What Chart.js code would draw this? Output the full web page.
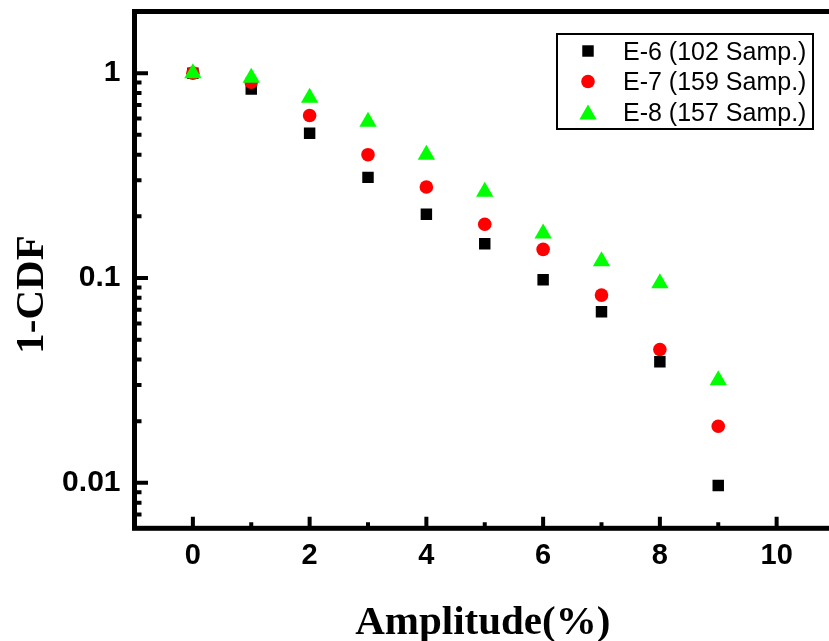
<!DOCTYPE html>
<html>
<head>
<meta charset="utf-8">
<script src="https://cdn.jsdelivr.net/npm/chart.js@4/dist/chart.umd.min.js"></script>
<style>
  html, body { margin: 0; padding: 0; background: #fff; overflow: hidden; }
  canvas { display: block; }
</style>
</head>
<body>
<canvas id="cdf" width="845" height="641"></canvas>
<script>
// Amplitude bins (%) and the 1-CDF value of each sample set at that bin
const amplitude = [0, 1, 2, 3, 4, 5, 6, 7, 8, 9];
const e6 = [1.0, 0.837, 0.509, 0.31, 0.205, 0.147, 0.098, 0.0684, 0.039, 0.0097];
const e7 = [1.0, 0.904, 0.621, 0.40, 0.278, 0.183, 0.138, 0.0825, 0.0448, 0.0189];
const e8 = [1.0, 0.95, 0.759, 0.58, 0.40, 0.264, 0.165, 0.1206, 0.0942, 0.0317];
const seriesNames = ['E-6 (102 Samp.)', 'E-7 (159 Samp.)', 'E-8 (157 Samp.)'];

// Axes
const xMin = -1, xMax = 11;
const yMin = 0.006, yMax = 2;
const xTicks = [0, 2, 4, 6, 8, 10];
const xTickLabels = ['0', '2', '4', '6', '8', '10'];
const yTicks = [0.01, 0.1, 1];
const yTickLabels = ['0.01', '0.1', '1'];
const xTitle = 'Amplitude(%)';
const yTitle = '1-CDF';

const toPoints = (ys) => amplitude.map((a, i) => ({ x: a, y: ys[i] }));

const tickFont = { family: '"Liberation Sans", Arial, sans-serif', weight: 'bold' };

// Axis frame with inward major/minor tick marks
const frame = {
  id: 'frame',
  afterDraw(chart) {
    const { ctx, chartArea: a, scales: { x, y } } = chart;
    ctx.save();
    ctx.strokeStyle = '#000';
    ctx.lineCap = 'butt';
    ctx.lineWidth = 4;
    ctx.beginPath();
    for (let v = Math.ceil(x.min); v <= x.max; v++) {
      const px = x.getPixelForValue(v);
      if (px <= a.left + 2 || px >= a.right - 2) continue;
      const len = (v % 2 === 0) ? 11.5 : 6;
      ctx.moveTo(px, a.bottom);
      ctx.lineTo(px, a.bottom - len);
    }
    const e0 = Math.floor(Math.log10(y.min)), e1 = Math.ceil(Math.log10(y.max));
    for (let e = e0; e <= e1; e++) {
      for (let m = 1; m <= 9; m++) {
        const v = m * Math.pow(10, e);
        if (v <= y.min * 1.001 || v >= y.max * 0.999) continue;
        const py = y.getPixelForValue(v);
        const len = (m === 1) ? 13.5 : 7;
        ctx.moveTo(a.left, py);
        ctx.lineTo(a.left + len, py);
      }
    }
    ctx.stroke();
    ctx.lineWidth = 5;
    ctx.strokeRect(a.left, a.top, a.right - a.left, a.bottom - a.top);
    ctx.restore();
  }
};

// Axis titles in bold serif
const axisTitles = {
  id: 'axisTitles',
  afterDraw(chart) {
    const { ctx, chartArea: a } = chart;
    ctx.save();
    ctx.fillStyle = '#000';
    ctx.font = 'bold 41px "Liberation Serif", "Times New Roman", serif';
    ctx.textAlign = 'center';
    ctx.textBaseline = 'alphabetic';
    ctx.fillText(xTitle, (a.left + a.right) / 2 - 2, 634);
    ctx.translate(43, 294.5);
    ctx.rotate(-Math.PI / 2);
    ctx.fillText(yTitle, 0, 0);
    ctx.restore();
  }
};

// Boxed legend in the upper right of the plot
const legendBox = {
  id: 'legendBox',
  afterDraw(chart) {
    const ctx = chart.ctx;
    ctx.save();
    ctx.lineWidth = 2;
    ctx.strokeStyle = '#000';
    ctx.strokeRect(557, 34, 256, 95);
    ctx.font = '25px "Liberation Sans", Arial, sans-serif';
    ctx.textAlign = 'left';
    ctx.textBaseline = 'alphabetic';
    chart.data.datasets.forEach((ds, row) => {
      const cy = 51 + row * 30.5;
      const my = ds.pointStyle === 'triangle' ? cy + ds.pointRadius / 4 : cy;
      ctx.fillStyle = ds.backgroundColor;
      Chart.helpers.drawPoint(ctx, { pointStyle: ds.pointStyle, radius: ds.pointRadius, borderWidth: 0, rotation: 0 }, 588, my);
      ctx.fillStyle = '#000';
      ctx.fillText(ds.label, 623, cy + 8.5);
    });
    ctx.restore();
  }
};

new Chart(document.getElementById('cdf'), {
  type: 'scatter',
  data: {
    datasets: [
      { label: seriesNames[0], data: toPoints(e6), pointStyle: 'rect', pointRadius: 8.1,
        backgroundColor: '#000000', borderWidth: 0, order: 3 },
      { label: seriesNames[1], data: toPoints(e7), pointStyle: 'circle', pointRadius: 6.8,
        backgroundColor: '#ff0000', borderWidth: 0, order: 2 },
      { label: seriesNames[2], data: toPoints(e8), pointStyle: 'triangle', pointRadius: 10,
        backgroundColor: '#00ff00', borderWidth: 0, order: 1 }
    ]
  },
  options: {
    responsive: false,
    animation: false,
    devicePixelRatio: 1,
    layout: { padding: { top: 11.5, right: 6.1, left: 0, bottom: 0 } },
    plugins: { legend: { display: false }, tooltip: { enabled: false } },
    elements: { point: { hoverRadius: 0 } },
    scales: {
      x: {
        type: 'linear', min: xMin, max: xMax,
        grid: { display: false, drawTicks: false },
        border: { display: false },
        afterFit(s) { s.height = 112.7; s.paddingLeft = 0; s.paddingRight = 0; },
        afterBuildTicks(s) { s.ticks = xTicks.map(v => ({ value: v })); },
        ticks: {
          autoSkip: false, maxRotation: 0, padding: 10, color: '#000',
          font: Object.assign({ size: 29 }, tickFont),
          callback: (v, i) => xTickLabels[i]
        }
      },
      y: {
        type: 'logarithmic', min: yMin, max: yMax,
        grid: { display: false, drawTicks: false },
        border: { display: false },
        afterFit(s) { s.width = 134.5; s.paddingTop = 0; s.paddingBottom = 0; },
        afterBuildTicks(s) { s.ticks = yTicks.map(v => ({ value: v })); },
        ticks: {
          autoSkip: false, padding: 14, color: '#000',
          font: Object.assign({ size: 30 }, tickFont),
          callback: (v, i) => yTickLabels[i]
        }
      }
    }
  },
  plugins: [frame, axisTitles, legendBox]
});
</script>
</body>
</html>
